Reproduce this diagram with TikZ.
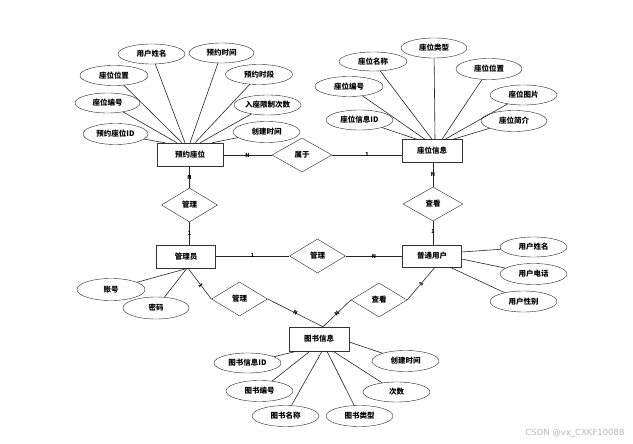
\documentclass[tikz,border=0pt]{standalone}
\usepackage{fontspec}
\newfontfamily\cjk{Noto Sans CJK SC}
\newfontfamily\wmfont{DejaVu Sans}
\usetikzlibrary{shapes.geometric}
\begin{document}
\begin{tikzpicture}[x=1pt,y=-1pt,
  every node/.style={font=\cjk\bfseries\fontsize{7.5}{8}\selectfont},
  ent/.style={draw=black!80, fill=white, rectangle, minimum width=60pt, minimum height=23pt, inner sep=1pt},
  rel/.style={draw=black!85, fill=white, diamond, aspect=1.65, minimum width=56pt, minimum height=34pt, inner sep=0pt},
  attr/.style={draw=black!85, fill=white, ellipse, minimum width=67pt, minimum height=20pt, inner sep=0pt},
  card/.style={font=\cjk\bfseries\fontsize{5.5}{6}\selectfont, inner sep=0pt},
  conn/.style={draw=black!85, line width=0.6pt}
]
\useasboundingbox (0,0) rectangle (633,444);
\fill[white] (0,0) rectangle (633,444);

% entities and relations
\node[ent, minimum width=66pt] (pz) at (190,154.5) {预约座位};
\node[ent] (zw) at (432,151) {座位信息};
\node[rel, minimum width=60pt, aspect=1.75] (sy) at (302,155) {属于};
\node[rel] (gla) at (189.5,205) {管理};
\node[ent, minimum width=59pt] (gly) at (186,256.5) {管理员};
\node[rel] (glb) at (317.5,256) {管理};
\node[ent, minimum width=59pt, minimum height=22pt] (pt) at (432,256) {普通用户};
\node[rel, minimum width=60pt, aspect=1.75] (cka) at (433,204) {查看};
\node[rel] (glc) at (239.5,299) {管理};
\node[rel] (ckb) at (379,300) {查看};
\node[ent, minimum height=24pt] (ts) at (319,339) {图书信息};

% relationship connectors
\draw[conn] (pz.east |- sy.west) -- node[card]{N} (sy.west);
\draw[conn] (sy.east) -- node[card]{1} (sy.east -| zw.west);
\draw[conn] (pz.south -| gla.north) -- node[card]{N} (gla.north);
\draw[conn] (gla.south) -- node[card]{1} (gla.south |- gly.north);
\draw[conn] (zw.south -| cka.north) -- node[card]{N} (cka.north);
\draw[conn] (cka.south) -- node[card, pos=0.45]{1} (cka.south |- pt.north);
\draw[conn] (gly.east |- glb.west) -- node[card]{1} (glb.west);
\draw[conn] (glb.east) -- node[card]{N} (glb.east -| pt.west);
\coordinate (glyb) at ([xshift=2pt]gly.south);
\coordinate (tst) at ([xshift=4pt]ts.north);
\coordinate (ptb) at ([xshift=3pt]pt.south);
\draw[conn] (glyb) -- node[card, sloped, pos=0.55]{1} (glc.west);
\draw[conn] (glc.east) -- node[card, sloped]{N} (tst);
\draw[conn] (tst) -- node[card, sloped]{N} (ckb.west);
\draw[conn] (ckb.east) -- node[card, sloped]{1} (ptb);

% attributes of 预约座位
\node[attr] (a1) at (151.5,54) {用户姓名};
\node[attr, minimum width=65pt] (a2) at (221.5,53) {预约时间};
\node[attr, minimum width=68pt] (a3) at (114,75.5) {座位位置};
\node[attr] (a4) at (259,74.5) {预约时段};
\node[attr, minimum width=65pt] (a5) at (107.5,103) {座位编号};
\node[attr] (a6) at (267.5,105) {入座限制次数};
\node[attr, minimum width=65pt, minimum height=21pt] (a7) at (115.5,134) {预约座位ID};
\node[attr, minimum height=21pt] (a8) at (266.5,132) {创建时间};
\draw[conn] (a7) -- ([xshift=-25pt]pz.north);
\draw[conn] (a5) -- ([xshift=-13pt]pz.north);
\draw[conn] (a3) -- ([xshift=-8pt]pz.north);
\draw[conn] (a1) -- ([xshift=-5pt]pz.north);
\draw[conn] (a2) -- ([xshift=0pt]pz.north);
\draw[conn] (a4) -- ([xshift=5pt]pz.north);
\draw[conn] (a6) -- ([xshift=10pt]pz.north);
\draw[conn] (a8) -- ([xshift=22pt]pz.north);

% attributes of 座位信息
\node[attr, minimum width=66pt] (b1) at (434,48) {座位类型};
\node[attr, minimum width=68pt, minimum height=19pt] (b2) at (373,61.5) {座位名称};
\node[attr, minimum width=66pt, minimum height=21pt] (b3) at (489,69) {座位位置};
\node[attr, minimum width=68pt] (b4) at (349,86.5) {座位编号};
\node[attr] (b5) at (523.5,95) {座位图片};
\node[attr] (b6) at (359.5,120) {座位信息ID};
\node[attr, minimum width=66pt, minimum height=21pt] (b7) at (514,121) {座位简介};
\draw[conn] (b6) -- ([xshift=-15pt]zw.north);
\draw[conn] (b4) -- ([xshift=-7pt]zw.north);
\draw[conn] (b2) -- ([xshift=0pt]zw.north);
\draw[conn] (b1) -- ([xshift=3pt]zw.north);
\draw[conn] (b3) -- ([xshift=10pt]zw.north);
\draw[conn] (b5) -- ([xshift=13pt]zw.north);
\draw[conn] (b7) -- ([xshift=21pt]zw.north);

% attributes of 普通用户
\node[attr] (c1) at (533.5,247) {用户姓名};
\node[attr, minimum height=21pt] (c2) at (533.5,274) {用户电话};
\node[attr, minimum height=21pt] (c3) at (523.5,301.5) {用户性别};
\draw[conn] ([yshift=4pt]pt.east) -- (c1);
\draw[conn] ([yshift=-3pt]pt.east) -- (c2);
\draw[conn] ([xshift=18pt]pt.south) -- (c3);

% attributes of 管理员
\node[attr, minimum width=68pt, minimum height=22pt] (d1) at (111,289.5) {账号};
\node[attr, minimum width=66pt, minimum height=22pt] (d2) at (156,308) {密码};
\draw[conn] (glyb) -- (d1);
\draw[conn] ([xshift=1pt]gly.south) -- (d2);

% attributes of 图书信息
\node[attr] (e1) at (247.5,363) {图书信息ID};
\node[attr, minimum height=21pt] (e2) at (405.5,361) {创建时间};
\node[attr, minimum height=21pt] (e3) at (259.5,391) {图书编号};
\node[attr] (e4) at (396.5,392) {次数};
\node[attr, minimum height=21pt] (e5) at (285.5,416) {图书名称};
\node[attr, minimum height=21pt] (e6) at (359.5,416) {图书类型};
\draw[conn] (e1) -- ([xshift=-22pt]ts.south);
\draw[conn] (e3) -- ([xshift=-9pt]ts.south);
\draw[conn] (e5) -- ([xshift=3pt]ts.south);
\draw[conn] (e6) -- ([xshift=8pt]ts.south);
\draw[conn] (e4) -- ([xshift=14pt]ts.south);
\draw[conn] (e2) -- ([yshift=-3pt]ts.east);

% watermark
\node[font=\wmfont\fontsize{8.5}{9}\selectfont, text=black!28, anchor=east] (wm) at (628,433) {CSDN @vx\_CXKF10088};
\end{tikzpicture}
\end{document}
